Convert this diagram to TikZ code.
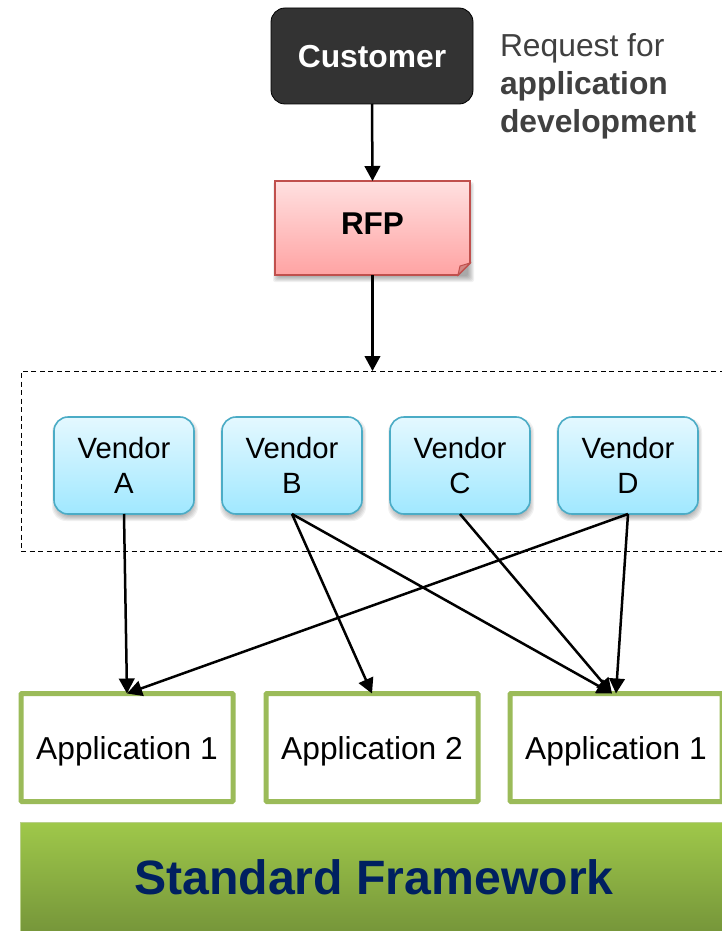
\documentclass[tikz,border=0pt]{standalone}
\usepackage{fontspec}
\setmainfont{Liberation Sans}
\usetikzlibrary{arrows.meta,calc}
\definecolor{appgreen}{HTML}{9BBB59}
\definecolor{navy}{HTML}{002060}
\definecolor{vendoredge}{HTML}{4BACC6}
\definecolor{vendortop}{HTML}{E4F8FF}
\definecolor{vendorbot}{HTML}{A0E8FF}
\definecolor{rfpedge}{HTML}{C0504D}
\definecolor{rfptop}{HTML}{FFE0E0}
\definecolor{rfpbot}{HTML}{FFA3A3}
\definecolor{fwtop}{HTML}{9FC84A}
\definecolor{fwbot}{HTML}{76963A}
\newcommand{\softrect}[5]{%
  \foreach \g in {-3,-2,...,3}{%
    \fill[black,opacity=.055,rounded corners=#5]
      ({#1-\g+1},{#2-\g+4}) rectangle ({#3+\g+1},{#4+\g+4});
  }}
\tikzset{
  every node/.style={inner sep=0pt,outer sep=0pt,align=center},
  customerbox/.style={rounded corners=14pt,draw=black,line width=.8pt,fill=black!80,text=white,minimum width=202pt,minimum height=96pt,text height=27pt,text depth=3pt,font=\fontsize{31.8}{36}\selectfont\bfseries},
  rfpnode/.style={minimum width=195pt,minimum height=94pt,text height=22pt,text depth=9pt,font=\fontsize{31.5}{36}\selectfont\bfseries},
  vendorbox/.style={rounded corners=14pt,draw=vendoredge,line width=1.6pt,top color=vendortop,bottom color=vendorbot,minimum width=140pt,minimum height=97pt,font=\fontsize{29.3}{35.5}\selectfont},
  appbox/.style={draw=appgreen,line width=5pt,fill=white,rounded corners=1pt,minimum width=212pt,minimum height=108pt,text height=27pt,text depth=3pt,font=\fontsize{31.7}{36}\selectfont},
  conn/.style={-{Triangle[length=15pt,width=15.5pt]},line width=2.5pt,black},
  grouprect/.style={draw=black,line width=.9pt,dash pattern=on 5pt off 3.5pt,minimum width=708pt,minimum height=180pt},
  noteline/.style={text=black!75,font=\fontsize{31.8}{38.2}\selectfont,align=left,anchor=north west},
  frame/.style={top color=fwtop,bottom color=fwbot,draw=appgreen!70!white,line width=.8pt,minimum width=708pt,minimum height=110pt,font=\fontsize{48.2}{54}\selectfont\bfseries,text=navy}
}
\begin{document}
\begin{tikzpicture}[x=1pt,y=-1pt]
\clip (0,0) rectangle (722,931);
\fill[white] (0,0) rectangle (722,931);

\node[grouprect] (group) at (375,461) {};

\softrect{275}{181}{470}{275}{2pt}
\shade[top color=rfptop,bottom color=rfpbot,draw=rfpedge,line width=1.8pt]
  (275,181) -- (470,181) -- (470,263) -- (458,275) -- (275,275) -- cycle;
\fill[rfpedge!70!white,draw=rfpedge,line width=1pt] (470,263) -- (460,266) -- (458,275) -- cycle;
\node[rfpnode] (rfp) at (372.5,228) {RFP};

\node[customerbox] (customer) at (372,56) {Customer};
\node[noteline] (note) at (500,33.5) {Request for\\\textbf{application}\\\textbf{development}};

\softrect{54}{417}{194}{514}{14pt}
\softrect{222}{417}{362}{514}{14pt}
\softrect{390}{417}{530}{514}{14pt}
\softrect{558}{417}{698}{514}{14pt}
\node[vendorbox] (va) at (124,465.5) {Vendor\\A};
\node[vendorbox] (vb) at (292,465.5) {Vendor\\B};
\node[vendorbox] (vc) at (460,465.5) {Vendor\\C};
\node[vendorbox] (vd) at (628,465.5) {Vendor\\D};

\node[appbox] (a1) at (127,747.5) {Application 1};
\node[appbox] (a2) at (372,747.5) {Application 2};
\node[appbox] (a3) at (616,747.5) {Application 1};

\node[frame] (fw) at (374,877) {Standard Framework};

\coordinate (a3l) at ($(a3.north)+(-4,0)$);

\draw[conn] (customer.south) -- (rfp.north);
\draw[conn] (rfp.south) -- (group.north -| rfp.south);
\draw[conn] (va.south) -- (a1.north);
\draw[conn] (vb.south) -- (a2.north);
\draw[conn] (vb.south) -- (a3l);
\draw[conn] (vc.south) -- (a3l);
\draw[conn] (vd.south) -- (a1.north);
\draw[conn] (vd.south) -- (a3.north);
\end{tikzpicture}
\end{document}
